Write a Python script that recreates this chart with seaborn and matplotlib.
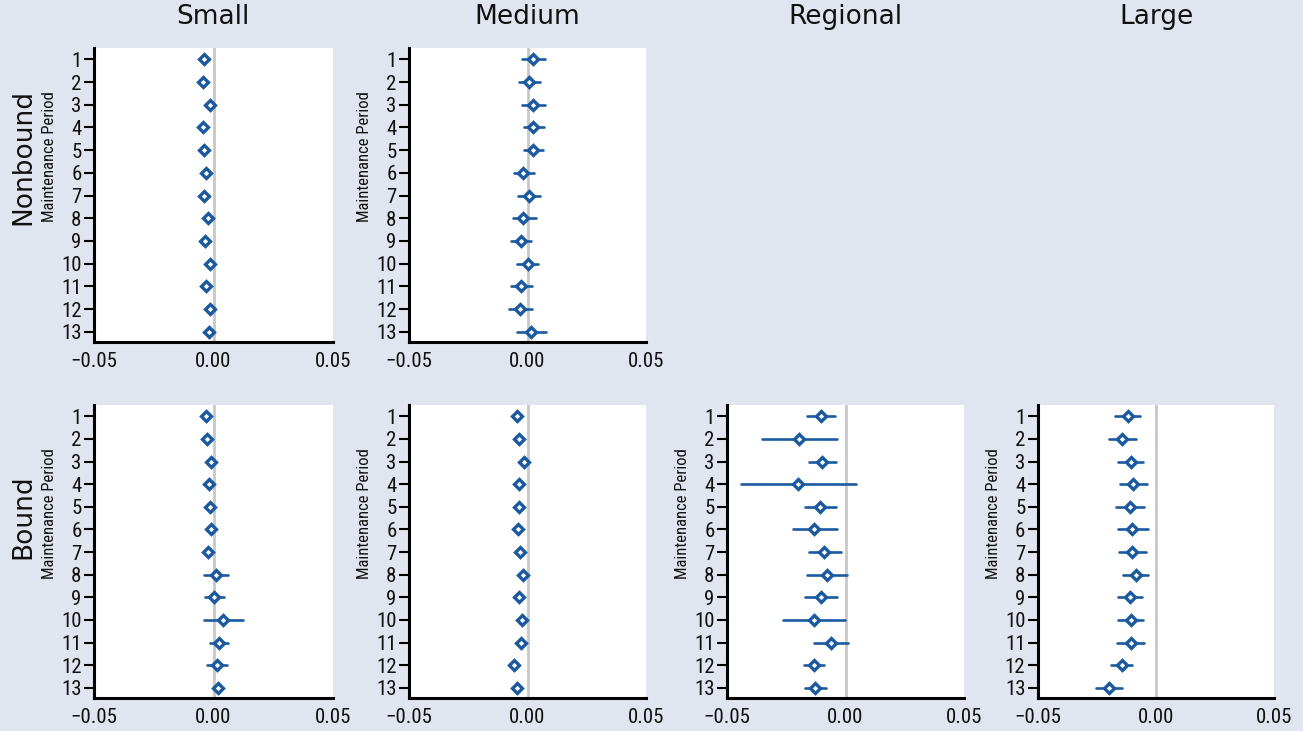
import numpy as np
import pandas as pd
import matplotlib.pyplot as plt
import seaborn as sns
from matplotlib import font_manager

# Maintenance periods and panel names
periods = [str(p) for p in range(1, 14)]
sizes = ['Small', 'Medium', 'Regional', 'Large']
groups = ['Nonbound', 'Bound']

# Nonbound - Small (intervals too tight to see)
nb_small_est = [-0.0041, -0.0045, -0.0014, -0.0046, -0.0041, -0.0032, -0.0039,
                -0.0024, -0.0034, -0.0013, -0.0031, -0.0014, -0.0020]
nb_small_lo = nb_small_est
nb_small_hi = nb_small_est

# Nonbound - Medium
nb_medium_est = [0.0023, 0.0008, 0.0023, 0.0025, 0.0025, -0.0017, 0.0006,
                 -0.0017, -0.0028, 0.0000, -0.0027, -0.0032, 0.0015]
nb_medium_lo = [-0.0025, -0.0034, -0.0025, -0.0015, -0.0014, -0.0059, -0.0039,
                -0.0063, -0.0070, -0.0045, -0.0070, -0.0079, -0.0044]
nb_medium_hi = [0.0072, 0.0053, 0.0073, 0.0069, 0.0066, 0.0027, 0.0053,
                0.0035, 0.0015, 0.0044, 0.0021, 0.0018, 0.0080]

# Bound - Small
b_small_est = [-0.0032, -0.0027, -0.0010, -0.0020, -0.0013, -0.0010, -0.0025,
               0.0010, 0.0004, 0.0039, 0.0022, 0.0013, 0.0020]
b_small_lo = [-0.0032, -0.0027, -0.0010, -0.0020, -0.0013, -0.0010, -0.0025,
              -0.0038, -0.0036, -0.0041, -0.0013, -0.0027, -0.0004]
b_small_hi = [-0.0032, -0.0027, -0.0010, -0.0020, -0.0013, -0.0010, -0.0025,
              0.0059, 0.0046, 0.0122, 0.0059, 0.0057, 0.0028]

# Bound - Medium (intervals too tight to see)
b_medium_est = [-0.0045, -0.0037, -0.0015, -0.0037, -0.0034, -0.0038, -0.0031,
                -0.0021, -0.0034, -0.0025, -0.0028, -0.0058, -0.0044]
b_medium_lo = b_medium_est
b_medium_hi = b_medium_est

# Bound - Regional
b_regional_est = [-0.0104, -0.0195, -0.0100, -0.0201, -0.0107, -0.0131, -0.0090,
                  -0.0079, -0.0103, -0.0135, -0.0063, -0.0135, -0.0129]
b_regional_lo = [-0.0164, -0.0353, -0.0153, -0.0440, -0.0171, -0.0223, -0.0156,
                 -0.0162, -0.0170, -0.0265, -0.0132, -0.0177, -0.0171]
b_regional_hi = [-0.0045, -0.0035, -0.0042, 0.0044, -0.0042, -0.0037, -0.0021,
                 0.0007, -0.0037, -0.0003, 0.0010, -0.0091, -0.0083]

# Bound - Large
b_large_est = [-0.0120, -0.0144, -0.0108, -0.0096, -0.0111, -0.0100, -0.0101,
               -0.0086, -0.0110, -0.0107, -0.0108, -0.0145, -0.0201]
b_large_lo = [-0.0172, -0.0199, -0.0159, -0.0151, -0.0168, -0.0161, -0.0158,
              -0.0138, -0.0159, -0.0161, -0.0166, -0.0189, -0.0256]
b_large_hi = [-0.0066, -0.0086, -0.0056, -0.0039, -0.0052, -0.0035, -0.0044,
              -0.0032, -0.0061, -0.0054, -0.0052, -0.0101, -0.0145]

panels = {
    ('Nonbound', 'Small'): (nb_small_est, nb_small_lo, nb_small_hi),
    ('Nonbound', 'Medium'): (nb_medium_est, nb_medium_lo, nb_medium_hi),
    ('Bound', 'Small'): (b_small_est, b_small_lo, b_small_hi),
    ('Bound', 'Medium'): (b_medium_est, b_medium_lo, b_medium_hi),
    ('Bound', 'Regional'): (b_regional_est, b_regional_lo, b_regional_hi),
    ('Bound', 'Large'): (b_large_est, b_large_lo, b_large_hi),
}

# long table: lo / est / hi rows per period, median + full range gives point & bar
rows = []
for (grp, size), (est, lo, hi) in panels.items():
    for i, p in enumerate(periods):
        for v in (lo[i], est[i], hi[i]):
            rows.append({'group': grp, 'size': size, 'period': p, 'value': v})
df = pd.DataFrame(rows)

sns.set_theme(style='white')

# pick a condensed face for the axis text if one is around
fonts = font_manager.fontManager.ttflist
names = {f.name for f in fonts}
narrow_family, narrow_stretch = 'DejaVu Sans', 'normal'
for cand in ['Liberation Sans Narrow', 'Roboto Condensed', 'Open Sans Condensed']:
    if cand in names:
        narrow_family = cand
        break
else:
    if any(f.name == 'DejaVu Sans' and f.stretch == 'condensed' for f in fonts):
        narrow_stretch = 'condensed'

bg = '#e1e5f0'
blue = '#1b5aa0'

fig = plt.figure(figsize=(13.03, 7.31), dpi=100, facecolor=bg)
W, H = 1303, 731
col_left = [94, 409, 727, 1038]
col_width = [239, 237, 237, 236]
row_top = [48, 405]
row_height = [294, 293]

for r, grp in enumerate(groups):
    for c, size in enumerate(sizes):
        if (grp, size) not in panels:
            continue
        ax = fig.add_axes([col_left[c] / W, 1 - (row_top[r] + row_height[r]) / H,
                           col_width[c] / W, row_height[r] / H])
        ax.set_facecolor('white')
        sub = df[(df['group'] == grp) & (df['size'] == size)]
        ax.axvline(0, color='#c8c8c8', lw=2, zorder=0)
        sns.pointplot(data=sub, x='value', y='period', order=periods, orient='h',
                      estimator='median', errorbar=('pi', 100), color=blue,
                      markers='D', linestyle='none', markersize=4.6,
                      markeredgewidth=2.4, err_kws={'linewidth': 1.9}, ax=ax)
        for ln in ax.lines:
            if ln.get_marker() == 'D':
                ln.set_markerfacecolor('white')
                ln.set_markeredgecolor(blue)
                ln.set_zorder(5)
        ax.set_xlim(-0.05, 0.05)
        ax.set_ylim(12.45, -0.5)
        ax.set_xticks([-0.05, 0, 0.05])
        ax.set_xticklabels(['\u22120.05', '0.00', '0.05'])
        ax.set_xlabel('')
        ax.set_ylabel('Maintenance Period', fontsize=12, family=narrow_family,
                      fontstretch=narrow_stretch, color='#111111')
        ax.yaxis.set_label_coords(-0.155, 0.63)
        ax.tick_params(axis='x', length=0, pad=7, labelsize=15, labelcolor='#111111')
        ax.tick_params(axis='y', length=7, width=1.5, color='black', pad=2,
                       labelsize=15, left=True, labelcolor='#111111')
        for lab in ax.get_xticklabels() + ax.get_yticklabels():
            lab.set_family(narrow_family)
            lab.set_stretch(narrow_stretch)
        for s in ['top', 'right']:
            ax.spines[s].set_visible(False)
        for s in ['left', 'bottom']:
            ax.spines[s].set_color('black')
            ax.spines[s].set_linewidth(2.2)

# column titles and row labels
centers = [213, 527, 845, 1156]
for c, size in enumerate(sizes):
    fig.text(centers[c] / W, 1 - 17 / H, size, ha='center', va='center',
             fontsize=19, family='DejaVu Sans', color='#111111')
fig.text(23 / W, 1 - 157 / H, 'Nonbound', rotation=90, ha='center', va='center',
         fontsize=19, family='DejaVu Sans', color='#111111')
fig.text(23 / W, 1 - 517 / H, 'Bound', rotation=90, ha='center', va='center',
         fontsize=19, family='DejaVu Sans', color='#111111')

fig.savefig('out.png', dpi=100, facecolor=bg)
